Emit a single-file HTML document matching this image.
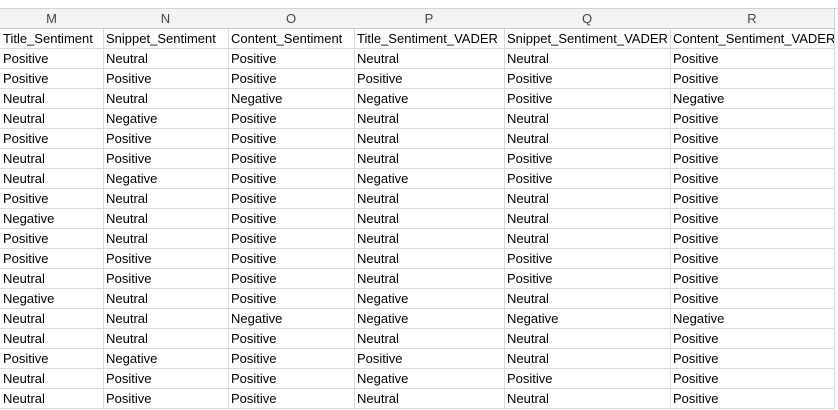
<!DOCTYPE html>
<html><head><meta charset="utf-8"><style>
body{margin:0;width:838px;height:410px;overflow:hidden;background:#fff;font-family:"Liberation Sans",sans-serif;}
#top{position:absolute;left:0;top:0;width:838px;height:9px;background:#fff;border-bottom:1px solid #d4d4d4;box-sizing:border-box;}
.h{position:absolute;top:9px;height:20px;background:#f3f3f3;border-right:1px solid #d4d4d4;border-bottom:1px solid #c8c8c8;box-sizing:border-box;text-align:center;font-size:13px;line-height:19px;color:#444;}
.c{position:absolute;height:20px;border-right:1px solid #dadada;border-bottom:1px solid #dadada;box-sizing:border-box;font-size:13px;line-height:20px;padding-left:3px;color:#000;white-space:nowrap;overflow:hidden;}
</style></head><body>
<div id="top"></div>
<div id="sheet"></div>
<script>
const cols=[0,103,228,354,504,670,834];
const letters=['M','N','O','P','Q','R'];
const header=['Title_Sentiment','Snippet_Sentiment','Content_Sentiment','Title_Sentiment_VADER','Snippet_Sentiment_VADER','Content_Sentiment_VADER'];
const P='Positive',N='Neutral',G='Negative';
const rows=[
[P,N,P,N,N,P],[P,P,P,P,P,P],[N,N,G,G,P,G],[N,G,P,N,N,P],[P,P,P,N,N,P],
[N,P,P,N,P,P],[N,G,P,G,P,P],[P,N,P,N,N,P],[G,N,P,N,N,P],[P,N,P,N,N,P],
[P,P,P,N,P,P],[N,P,P,N,P,P],[G,N,P,G,N,P],[N,N,G,G,G,G],[N,N,P,N,N,P],
[P,G,P,P,N,P],[N,P,P,G,P,P],[N,P,P,N,N,P]];
const s=document.getElementById('sheet');
letters.forEach((l,i)=>{
 const d=document.createElement('div');d.className='h';
 
 
 d.style.left=cols[i]+'px';d.style.width=(cols[i+1]-cols[i]+1)+'px';d.textContent=l;s.appendChild(d);
});
const all=[header].concat(rows);
all.forEach((r,ri)=>{
 r.forEach((v,ci)=>{
  const d=document.createElement('div');d.className='c';
  
  
  d.style.left=cols[ci]+'px';d.style.top=(29+ri*20)+'px';d.style.width=(cols[ci+1]-cols[ci]+1)+'px';
  d.textContent=v;s.appendChild(d);
 });
});
</script>
</body></html>
